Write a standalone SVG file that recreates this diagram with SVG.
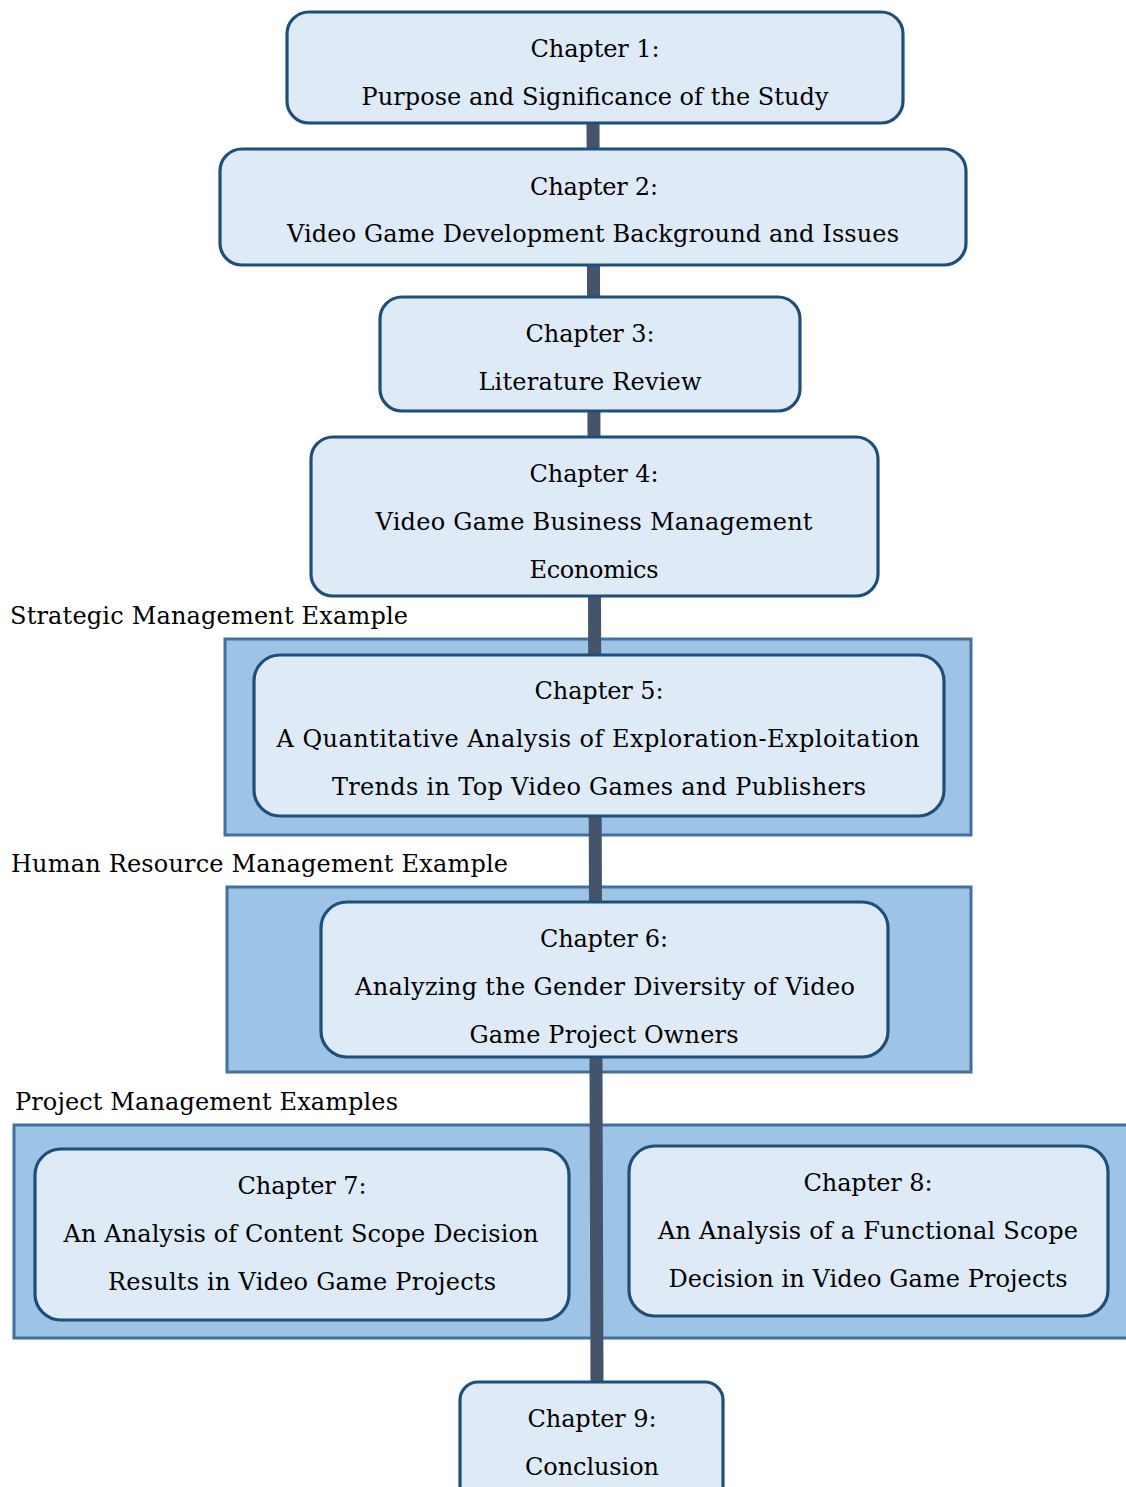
<svg xmlns="http://www.w3.org/2000/svg" width="1126" height="1487" viewBox="0 0 1126 1487">
  <style>
    .cluster { fill: #9dc3e6; stroke: #41719c; stroke-width: 3; }
    .node { fill: #deebf7; stroke: #1f4e79; stroke-width: 3.2; }
    .edge { fill: none; stroke: #44546a; stroke-width: 13; }
    text { font-family: "DejaVu Serif", "Liberation Serif", serif; font-size: 24px; fill: #000; }
    .t { text-anchor: middle; }
  </style>
  <rect width="1126" height="1487" fill="#ffffff"/>

  <!-- chapter groupings -->
  <g id="cluster-strategic">
    <rect class="cluster" x="225" y="639" width="746" height="196"/>
    <text x="10" y="624" textLength="398">Strategic Management Example</text>
  </g>
  <g id="cluster-hr">
    <rect class="cluster" x="227" y="887" width="744" height="185"/>
    <text x="11" y="872" textLength="497">Human Resource Management Example</text>
  </g>
  <g id="cluster-project">
    <rect class="cluster" x="14" y="1125" width="1120" height="213"/>
    <text x="15" y="1110" textLength="383">Project Management Examples</text>
  </g>

  <!-- spine linking the chapters -->
  <g id="connectors">
    <path class="edge" d="M593,120 L597,1385"/>
  </g>

  <g id="ch1">
    <rect class="node" x="287" y="12" width="616" height="111" rx="22"/>
    <text class="t" x="595" y="57" textLength="129">Chapter 1:</text>
    <text class="t" x="595" y="105" textLength="467">Purpose and Significance of the Study</text>
  </g>
  <g id="ch2">
    <rect class="node" x="220" y="149" width="746" height="116" rx="22"/>
    <text class="t" x="594" y="195" textLength="128">Chapter 2:</text>
    <text class="t" x="593" y="242" textLength="612">Video Game Development Background and Issues</text>
  </g>
  <g id="ch3">
    <rect class="node" x="380" y="297" width="420" height="114" rx="22"/>
    <text class="t" x="590" y="342" textLength="129">Chapter 3:</text>
    <text class="t" x="590" y="390" textLength="223">Literature Review</text>
  </g>
  <g id="ch4">
    <rect class="node" x="311" y="437" width="567" height="159" rx="22"/>
    <text class="t" x="594" y="482" textLength="129">Chapter 4:</text>
    <text class="t" x="594" y="530" textLength="437">Video Game Business Management</text>
    <text class="t" x="594" y="578" textLength="129">Economics</text>
  </g>
  <g id="ch5">
    <rect class="node" x="254" y="655" width="690" height="161" rx="26"/>
    <text class="t" x="599" y="699" textLength="129">Chapter 5:</text>
    <text class="t" x="598" y="747" textLength="643">A Quantitative Analysis of Exploration-Exploitation</text>
    <text class="t" x="599" y="795" textLength="534">Trends in Top Video Games and Publishers</text>
  </g>
  <g id="ch6">
    <rect class="node" x="321" y="902" width="567" height="155" rx="26"/>
    <text class="t" x="604" y="947" textLength="128">Chapter 6:</text>
    <text class="t" x="605" y="995" textLength="500">Analyzing the Gender Diversity of Video</text>
    <text class="t" x="604" y="1043" textLength="269">Game Project Owners</text>
  </g>
  <g id="ch7">
    <rect class="node" x="35" y="1149" width="534" height="171" rx="26"/>
    <text class="t" x="302" y="1194" textLength="129">Chapter 7:</text>
    <text class="t" x="301" y="1242" textLength="475">An Analysis of Content Scope Decision</text>
    <text class="t" x="302" y="1290" textLength="388">Results in Video Game Projects</text>
  </g>
  <g id="ch8">
    <rect class="node" x="629" y="1146" width="479" height="170" rx="26"/>
    <text class="t" x="868" y="1191" textLength="129">Chapter 8:</text>
    <text class="t" x="868" y="1239" textLength="420">An Analysis of a Functional Scope</text>
    <text class="t" x="868" y="1287" textLength="399">Decision in Video Game Projects</text>
  </g>
  <g id="ch9">
    <rect class="node" x="460" y="1382" width="263" height="130" rx="18"/>
    <text class="t" x="592" y="1427" textLength="129">Chapter 9:</text>
    <text class="t" x="592" y="1475" textLength="134">Conclusion</text>
  </g>
</svg>
